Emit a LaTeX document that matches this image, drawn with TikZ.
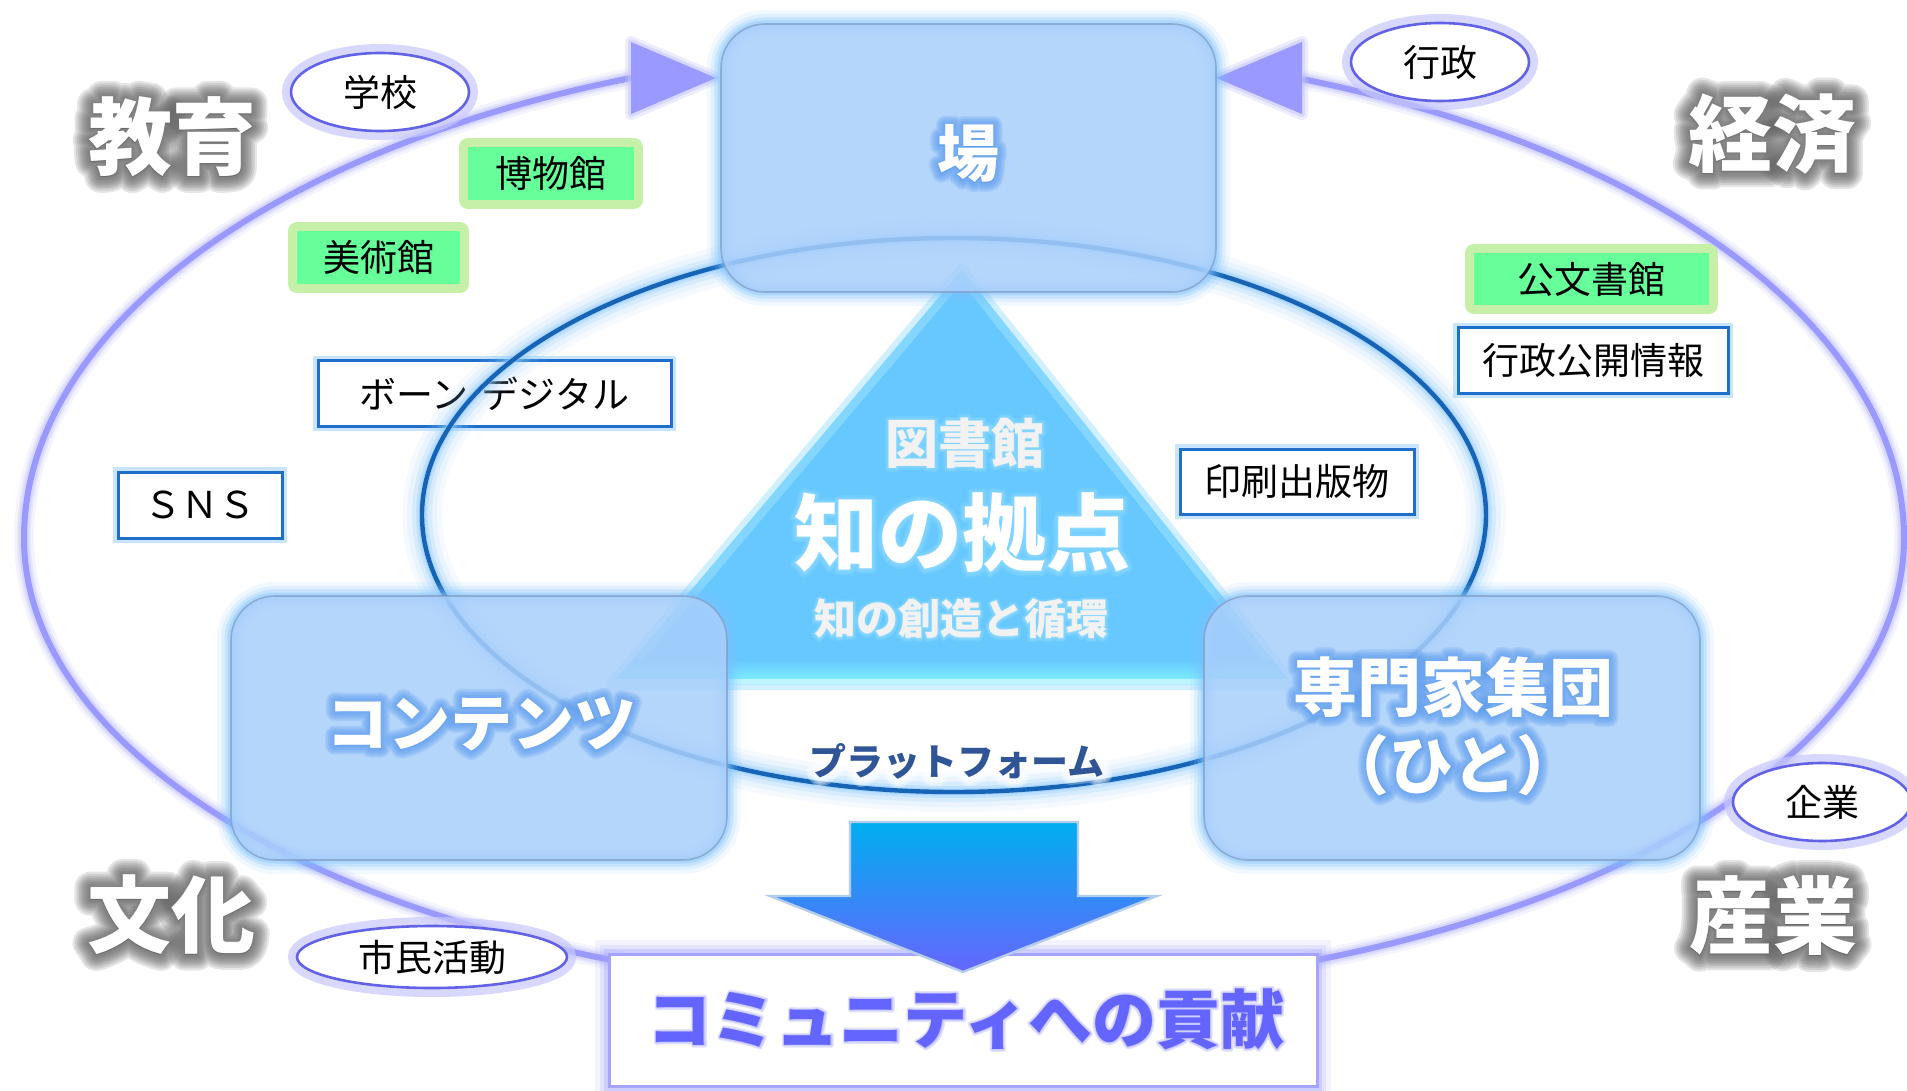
\documentclass[tikz,border=0pt]{standalone}
\usepackage{fontspec}
\newfontfamily\jp{Noto Sans CJK JP}
\usetikzlibrary{calc,shapes.geometric}
\definecolor{outerc}{HTML}{9999FF}
\definecolor{outerglow}{HTML}{C4C4FF}
\definecolor{innerc}{HTML}{1763B5}
\definecolor{innerglow}{HTML}{8FCBFF}
\definecolor{boxfill}{HTML}{A9CFFB}
\definecolor{boxline}{HTML}{7F9CC0}
\definecolor{boxglow}{HTML}{7CC2FF}
\definecolor{tric}{HTML}{66C8FF}
\definecolor{triedge}{HTML}{8FDDFF}
\definecolor{brightc}{HTML}{7DEBFF}
\definecolor{lblline}{HTML}{1F6FCA}
\definecolor{lblglow}{HTML}{A6D3FF}
\definecolor{greenc}{HTML}{66FF99}
\definecolor{greenglow}{HTML}{C6EFA8}
\definecolor{ovalc}{HTML}{6262E6}
\definecolor{ovalglow}{HTML}{C8C8FF}
\definecolor{shadowc}{HTML}{666666}
\definecolor{bglow}{HTML}{5C9CEE}
\definecolor{triglowt}{HTML}{A6E4FF}
\definecolor{trtext}{HTML}{F2F2F2}
\definecolor{platc}{HTML}{2F5597}
\definecolor{commc}{HTML}{6464FF}
\definecolor{commline}{HTML}{A4A4FF}
\definecolor{arrtop}{HTML}{00AEEF}
\definecolor{arrbot}{HTML}{6666FF}
\definecolor{arrline}{HTML}{B4CCEE}
\newcommand\lblfont{\jp\fontsize{18.5}{22}\selectfont}
% glowing text: #1 name, #2 x,y, #3 glow colour, #4 glow opacity, #5 embolden amounts, #6 font, #7 text, #8 text colour
\newcommand\gtext[8]{%
  \foreach \gB in {#5}{%
    \node[name=#1-glow, text=#3, opacity=#4, inner sep=0pt, line join=round, line cap=round] at (#2) {#6\addfontfeature{FakeBold=\gB}#7};
  }%
  \node[name=#1, text=#8, inner sep=0pt] at (#2) {#6#7};
}
\newcommand\bigbox[2]{%
  \foreach \w/\o in {14/0.1,10/0.16,6.5/0.25,3.5/0.35}{\draw[boxglow,line width=\w pt,opacity=\o,rounded corners=22pt] #1 rectangle #2;}
  \fill[boxfill,opacity=.85,rounded corners=22pt] #1 rectangle #2;
  \draw[boxline,line width=.8pt,opacity=.7,rounded corners=22pt] #1 rectangle #2;
}
\tikzset{
  oval/.style={ellipse, draw=ovalc, line width=1.3pt, fill=white, minimum width=89pt, minimum height=39pt,
    inner sep=0pt, font=\lblfont, text=black, preaction={draw=ovalglow, line width=9pt, opacity=0.7}},
  greenlbl/.style={fill=greenc, inner sep=0pt, font=\lblfont, text=black,
    preaction={draw=greenglow, line width=9pt, line join=round}},
  whitelbl/.style={draw=lblline, line width=1.5pt, fill=white, inner sep=0pt, font=\lblfont, text=black,
    preaction={draw=lblglow, line width=5pt, opacity=.6}}
}
\begin{document}
\begin{tikzpicture}[x=0.5pt,y=-0.5pt]
\useasboundingbox (0,0) rectangle (1907,1091);
\fill[white] (0,0) rectangle (1907,1091);

% outer cycle curve
\def\outerpath{(631,78) arc[start angle=249.25,end angle=180,x radius=940,y radius=492] arc[start angle=180,end angle=0,x radius=940,y radius=455] arc[start angle=360,end angle=291.08,x radius=940,y radius=492]}
\foreach \w/\o in {10/0.18,7/0.3,5/0.45}{\draw[outerglow,line width=\w pt,opacity=\o] \outerpath;}
\draw[outerc,line width=3pt] \outerpath;
\foreach \w/\o in {6/0.3,3/0.5}{\draw[outerglow,line width=\w pt,opacity=\o,line join=round] (631,42)--(716,78)--(631,114)--cycle (1302,42)--(1216,78)--(1302,114)--cycle;}
\fill[outerc] (631,42)--(716,78)--(631,114)--cycle (1302,42)--(1216,78)--(1302,114)--cycle;

% ovals
\node[oval] (gakko) at (380,92) {学校};
\node[oval] (gyosei) at (1440,62) {行政};
\node[oval] (kigyo) at (1822,802) {企業};
\node[oval, minimum width=135pt, minimum height=31pt] (shimin) at (432,957) {市民活動};

% green labels
\node[greenlbl, minimum width=83pt, minimum height=26.5pt] (hakubutsu) at (551,173.5) {博物館};
\node[greenlbl, minimum width=81.5pt, minimum height=26.5pt] (bijutsu) at (378.5,257.5) {美術館};
\node[greenlbl, minimum width=117.5pt, minimum height=26pt] (monjo) at (1591.5,279) {公文書館};

% white labels
\node[whitelbl, minimum width=135pt, minimum height=32.5pt] (kokai) at (1593,360.5) {行政公開情報};
\node[whitelbl, minimum width=117pt, minimum height=32.5pt] (insatsu) at (1297,481.5) {印刷出版物};
\node[whitelbl, minimum width=176.5pt, minimum height=32.5pt] (born) at (494.5,393.5) {ボーン\hspace{0.35em}デジタル};
\node[whitelbl, minimum width=82pt, minimum height=33pt] (sns) at (200,505) {ＳＮＳ};

% inner ellipse
\foreach \w/\o in {20/0.08,15/0.12,10/0.2,6/0.32,3.5/0.5}{\draw[innerglow,line width=\w pt,opacity=\o] (954,515) ellipse[x radius=532,y radius=277];}
\draw[innerc,line width=2.2pt] (954,515) ellipse[x radius=532,y radius=277];

% triangle
\def\tripath{(962,270)--(1292,684)--(612,684)--cycle}
\draw[triedge!70!white,line width=6pt,opacity=.6,line join=round] \tripath;
\fill[tric] \tripath;
\begin{scope}
\clip \tripath;
\draw[triedge,line width=8pt,opacity=.7] \tripath;
\shade[top color=tric,bottom color=brightc] (600,660) rectangle (1300,679);
\fill[brightc!50!white] (600,679) rectangle (1300,684);
\end{scope}

% big boxes
\bigbox{(721,24)}{(1216,292)}
\bigbox{(231,596)}{(727,860)}
\bigbox{(1204,596)}{(1700,860)}

% texts
\gtext{ba}{968,154}{bglow}{0.2}{5,10,15,20,25,30}{\jp\bfseries\fontsize{31}{36}\selectfont}{場}{white}
\gtext{toshokan}{965,443}{triglowt}{0.18}{5,10,15}{\jp\bfseries\fontsize{26.5}{30}\selectfont}{図書館}{trtext}
\gtext{kyoten}{962,533}{triglowt}{0.18}{4,8,12}{\jp\bfseries\fontsize{42}{48}\selectfont}{知の拠点}{white}
\gtext{junkan}{961,619}{triglowt}{0.18}{5,10,15}{\jp\bfseries\fontsize{21}{25}\selectfont}{知の創造と循環}{trtext}
\gtext{contents}{481,724}{bglow}{0.2}{5,10,15,20,25,30}{\jp\bfseries\fontsize{31}{36}\selectfont}{コンテンツ}{white}
\gtext{senmon}{1453,687}{bglow}{0.2}{5,10,15,20,25,30}{\jp\bfseries\fontsize{32}{36}\selectfont}{専門家集団}{white}
\gtext{hito}{1453,765}{bglow}{0.2}{5,10,15,20,25,30}{\jp\bfseries\fontsize{32}{36}\selectfont}{（ひと）}{white}
\gtext{platform}{957,761}{white}{0.3}{10,20,30,40,50}{\jp\bfseries\fontsize{18.5}{22}\selectfont}{プラットフォーム}{platc}

\gtext{kyoiku}{172,137}{shadowc}{0.17}{4,8,12,16,20,24,28,33,38}{\jp\bfseries\fontsize{42}{48}\selectfont}{教育}{white}
\gtext{keizai}{1772,134}{shadowc}{0.17}{4,8,12,16,20,24,28,33,38}{\jp\bfseries\fontsize{42}{48}\selectfont}{経済}{white}
\gtext{bunka}{171,915}{shadowc}{0.17}{4,8,12,16,20,24,28,33,38}{\jp\bfseries\fontsize{42}{48}\selectfont}{文化}{white}
\gtext{sangyo}{1773,916}{shadowc}{0.17}{4,8,12,16,20,24,28,33,38}{\jp\bfseries\fontsize{42}{48}\selectfont}{産業}{white}

% community box
\foreach \w/\o in {14/0.12,9/0.2,5/0.35}{\draw[commline,line width=\w pt,opacity=\o] (609,954) rectangle (1317,1086);}
\fill[white] (609,954) rectangle (1317,1086);
\draw[commline,line width=1.5pt] (609,954) rectangle (1317,1086);
\gtext{comm}{966,1019}{commline}{0.3}{4,8}{\jp\bfseries\fontsize{32}{36}\selectfont}{コミュニティへの貢献}{commc}

% down arrow
\def\arrpath{(850,822)--(1078,822)--(1078,896)--(1157,896)--(963,972)--(770,896)--(850,896)--cycle}
\shade[top color=arrtop,bottom color=arrbot] \arrpath;
\draw[arrline,line width=1.2pt] \arrpath;
\end{tikzpicture}
\end{document}
